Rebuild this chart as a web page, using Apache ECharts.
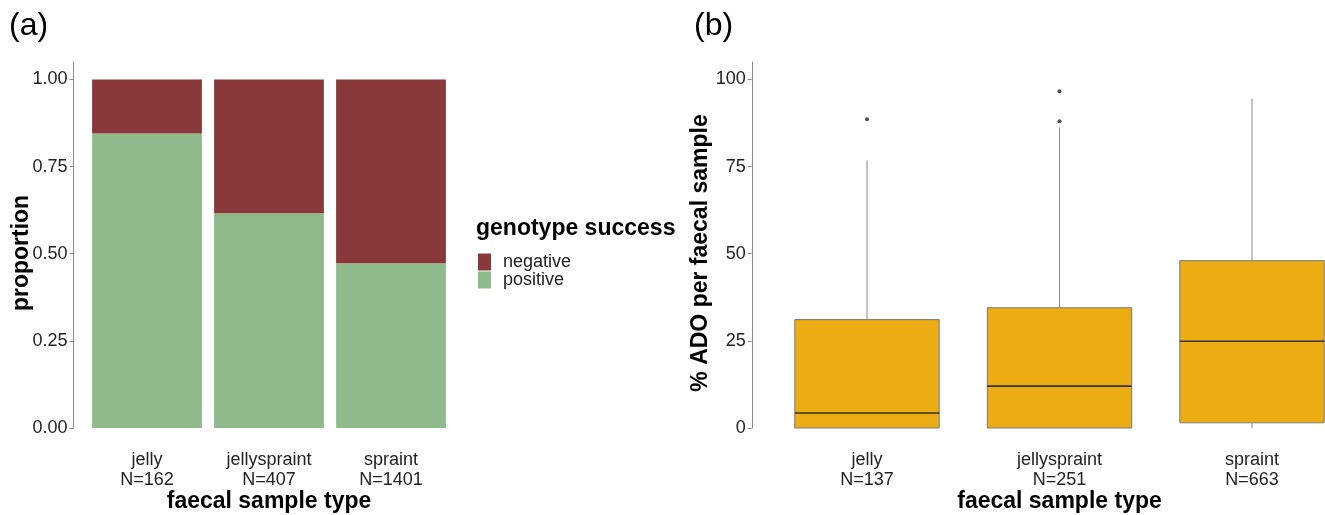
<!DOCTYPE html>
<html>
<head>
<meta charset="utf-8">
<script src="https://cdn.jsdelivr.net/npm/echarts@6/dist/echarts.min.js"></script>
<style>
html,body{margin:0;padding:0;background:#fff;}
#chart{width:1325px;height:515px;}
</style>
</head>
<body>
<div id="chart"></div>
<script>
// ---- data ----
const categories = ['jelly', 'jellyspraint', 'spraint'];
const countsA = [162, 407, 1401];
const positiveProp = [0.845, 0.616, 0.473];
const negativeProp = [0.155, 0.384, 0.527];
const countsB = [137, 251, 663];
// [lower whisker, Q1, median, Q3, upper whisker]
const jellyBox = [0, 0, 4.3, 31.1, 76.8];
const jellyspraintBox = [0, 0, 12.0, 34.5, 86.2];
const spraintBox = [0, 1.5, 24.9, 48.0, 94.5];
const outlierCats = ['jelly', 'jellyspraint', 'jellyspraint'];
const outlierVals = [88.6, 88.0, 96.6];
const legendNames = ['negative', 'positive'];

const boxStats = [jellyBox, jellyspraintBox, spraintBox];
const FONT = '"Liberation Sans", Arial, sans-serif';

const chart = echarts.init(document.getElementById('chart'), null, {renderer: 'canvas'});

function yAxisBase(max, interval, name, fmt, offset, gridIndex) {
  return {
    type: 'value', gridIndex: gridIndex, min: 0, max: max, interval: interval, offset: offset,
    name: name, nameLocation: 'middle', nameGap: 40, nameMoveOverlap: false,
    nameTextStyle: {fontFamily: FONT, fontSize: 23, fontWeight: 'bold', color: '#000', padding: [0, 16, 0, 0]},
    axisLine: {show: true, lineStyle: {color: '#8a8a8a', width: 1}},
    axisTick: {show: true, length: 4, lineStyle: {color: '#8a8a8a'}},
    axisLabel: {fontFamily: FONT, fontSize: 18, color: '#222', margin: 6, showMaxLabel: false, formatter: fmt},
    splitLine: {show: false}
  };
}

function xAxisBase(counts, gridIndex) {
  return {
    type: 'category', gridIndex: gridIndex, data: categories,
    name: 'faecal sample type', nameLocation: 'middle', nameGap: 62, nameMoveOverlap: false,
    nameTextStyle: {fontFamily: FONT, fontSize: 23, fontWeight: 'bold', color: '#000'},
    axisLine: {show: false}, axisTick: {show: false},
    axisLabel: {
      fontFamily: FONT, fontSize: 18, lineHeight: 20, color: '#222', margin: 22, interval: 0,
      formatter: function (v, i) { return v + '\nN=' + counts[i]; }
    }
  };
}

const option = {
  backgroundColor: '#fff',
  animation: false,
  title: [
    {text: '(a)', left: 9, top: 10, padding: 0, textStyle: {fontFamily: FONT, fontSize: 32, fontWeight: 'normal', color: '#000'}},
    {text: '(b)', left: 694, top: 10, padding: 0, textStyle: {fontFamily: FONT, fontSize: 32, fontWeight: 'normal', color: '#000'}},
    {text: 'genotype success', left: 476, top: 217, padding: 0, textStyle: {fontFamily: FONT, fontSize: 23, fontWeight: 'bold', color: '#000'}}
  ],
  legend: {
    data: legendNames, orient: 'vertical', left: 478, top: 253,
    itemWidth: 13, itemHeight: 17, itemGap: 0, padding: 0, icon: 'rect',
    selectedMode: false,
    textStyle: {fontFamily: FONT, fontSize: 18, color: '#222', padding: [0, 0, 0, 7]}
  },
  grid: [
    {left: 86, top: 62, width: 366, height: 366, outerBoundsMode: 'none'},
    {left: 770.75, top: 62, width: 577.5, height: 366, outerBoundsMode: 'none'}
  ],
  xAxis: [xAxisBase(countsA, 0), xAxisBase(countsB, 1)],
  yAxis: [
    yAxisBase(1.05, 0.25, 'proportion', function (v) { return v.toFixed(2); }, 12.5, 0),
    yAxisBase(105, 25, '% ADO per faecal sample', function (v) { return String(v); }, 19, 1)
  ],
  series: [
    {
      name: 'positive', type: 'bar', stack: 'a', xAxisIndex: 0, yAxisIndex: 0,
      barWidth: '90%', data: positiveProp, itemStyle: {color: '#8FBB8C'}
    },
    {
      name: 'negative', type: 'bar', stack: 'a', xAxisIndex: 0, yAxisIndex: 0,
      barWidth: '90%', data: negativeProp, itemStyle: {color: '#8A393A'}
    },
    {
      name: 'ADO', type: 'custom', xAxisIndex: 1, yAxisIndex: 1, clip: false,
      data: boxStats.map(function (b, i) { return [i, b[0], b[1], b[2], b[3], b[4]]; }),
      encode: {x: 0, y: [1, 2, 3, 4, 5]},
      renderItem: function (params, api) {
        const x = api.value(0);
        const pMin = api.coord([x, api.value(1)]);
        const pQ1 = api.coord([x, api.value(2)]);
        const pMed = api.coord([x, api.value(3)]);
        const pQ3 = api.coord([x, api.value(4)]);
        const pMax = api.coord([x, api.value(5)]);
        const w = api.size([1, 0])[0] * 0.75;
        const cx = pMed[0];
        return {
          type: 'group',
          children: [
            {type: 'line', shape: {x1: cx, y1: pQ3[1], x2: cx, y2: pMax[1]}, style: {stroke: '#8a8a8a', lineWidth: 1}},
            {type: 'line', shape: {x1: cx, y1: pMin[1], x2: cx, y2: pQ1[1]}, style: {stroke: '#8a8a8a', lineWidth: 1}},
            {type: 'rect', shape: {x: cx - w / 2, y: pQ3[1], width: w, height: pQ1[1] - pQ3[1]},
              style: {fill: '#ECAD12', stroke: '#7a7a7a', lineWidth: 1}},
            {type: 'line', shape: {x1: cx - w / 2, y1: pMed[1], x2: cx + w / 2, y2: pMed[1]}, style: {stroke: '#333', lineWidth: 1.6}}
          ]
        };
      }
    },
    {
      name: 'outliers', type: 'scatter', xAxisIndex: 1, yAxisIndex: 1,
      data: outlierCats.map(function (c, i) { return [c, outlierVals[i]]; }),
      symbolSize: 4, itemStyle: {color: '#222'}
    }
  ]
};
chart.setOption(option);
</script>
</body>
</html>
